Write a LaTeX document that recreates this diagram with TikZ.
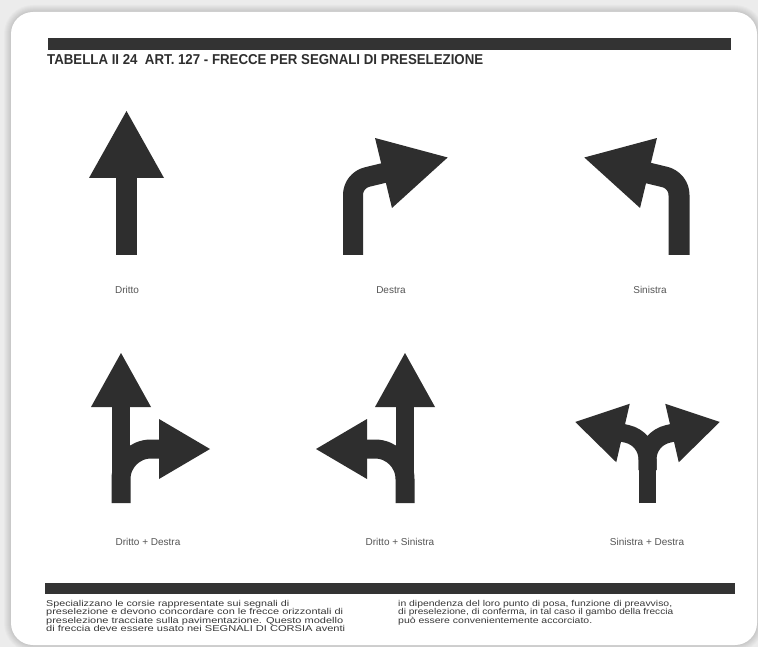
\documentclass[tikz,border=0pt]{standalone}
\usepackage{fontspec}
\setmainfont{Liberation Sans}
\definecolor{ink}{HTML}{2E2E2E}
\definecolor{barcol}{HTML}{333333}
\definecolor{lab}{HTML}{555555}
\definecolor{bgcol}{HTML}{ECECEC}
\definecolor{txt}{HTML}{383838}
\newcommand\myfit[2]{\resizebox{#1}{\height}{#2}}
\newcommand\ahead[4]{\begin{scope}[shift={(#1)}]\fill[headfill] ({#2+90}:#3) -- (#2:#4) -- ({#2-90}:#3) -- cycle;\end{scope}}
\tikzset{
  shaftline/.style={draw=ink, line width=#1, line cap=butt, line join=round},
  headfill/.style={fill=ink},
  lbl/.style={inner sep=0pt, text=lab, font=\fontsize{10}{12}\selectfont},
  para/.style={inner sep=0pt, anchor=base west, text=txt, font=\fontsize{8.5}{9}\selectfont},
  blackbar/.style={fill=barcol}
}
\begin{document}
\begin{tikzpicture}[x=1pt,y=1pt,yscale=-1]
\useasboundingbox (0,0) rectangle (758,647);
% background and card
\fill[bgcol] (0,0) rectangle (758,647);
\foreach \w in {2,4,...,14}
  \draw[black, opacity=0.02, line width=\w pt, rounded corners=22] (11,12) rectangle (757,645);
\fill[white, rounded corners=22] (11,12) rectangle (757,645);

% top bar and title
\fill[blackbar] (48,38) rectangle (731,50);
\node[inner sep=0pt, anchor=base west, text=ink] (title) at (47,65)
  {\resizebox{436pt}{10pt}{\bfseries TABELLA II 24\ \ ART. 127 - FRECCE PER SEGNALI DI PRESELEZIONE}};

% ---- Dritto
\draw[shaftline=21] (126.5,255) -- (126.5,172);
\ahead{126.5,178}{-90}{37.5}{67}
\node[lbl] (l1) at (127,290) {Dritto};

% ---- Destra
\draw[shaftline=20] (353,255) -- (353,195) arc[start angle=180, end angle=256.4, radius=18.5] -- ++(-13.6:22);
\ahead{383.5,173}{-13.6}{36}{66}
\node[lbl] (l2) at (391,290) {Destra};

% ---- Sinistra (mirror of Destra)
\begin{scope}[shift={(1032,0)}, xscale=-1]
\draw[shaftline=21] (353,255) -- (353,195) arc[start angle=180, end angle=256.4, radius=18.5] -- ++(-13.6:22);
\ahead{383.5,173}{-13.6}{36}{66}
\end{scope}
\node[lbl] (l3) at (650,290) {Sinistra};

% ---- Dritto + Destra
\draw[shaftline=18] (121,503) -- (121,400);
\ahead{121,407}{-90}{30}{54}
\draw[shaftline=19] (121,503) -- (121,479) arc[start angle=180, end angle=270, radius=30] -- ++(0:12);
\ahead{159,449}{0}{30}{51}
\node[lbl] (l4) at (148,542) {Dritto + Destra};

% ---- Dritto + Sinistra (mirror)
\begin{scope}[shift={(526,0)}, xscale=-1]
\draw[shaftline=18] (121,503) -- (121,400);
\ahead{121,407}{-90}{30}{54}
\draw[shaftline=19] (121,503) -- (121,479) arc[start angle=180, end angle=270, radius=30] -- ++(0:12);
\ahead{159,449}{0}{30}{51}
\end{scope}
\node[lbl] (l5) at (400,542) {Dritto + Sinistra};

% ---- Sinistra + Destra
\draw[shaftline=17.5] (647.5,503) -- (647.5,459);
\draw[shaftline=18] (647.5,470) -- (647.5,459.3) arc[start angle=180, end angle=257, radius=26] -- ++(-13:9);
\ahead{672,433}{-13}{30}{49}
\begin{scope}[shift={(1295,0)}, xscale=-1]
\draw[shaftline=18] (647.5,470) -- (647.5,459.3) arc[start angle=180, end angle=257, radius=26] -- ++(-13:9);
\ahead{672,433}{-13}{30}{49}
\end{scope}
\node[lbl] (l6) at (647,542) {Sinistra + Destra};

% bottom bar and text
\fill[blackbar] (45,583) rectangle (735,594);
\node[para] (p1) at (46,606) {\myfit{243pt}{Specializzano le corsie rappresentate sui segnali di}};
\node[para] (p2) at (46,614.5) {\myfit{297pt}{preselezione e devono concordare con le frecce orizzontali di}};
\node[para] (p3) at (46,623) {\myfit{297pt}{preselezione tracciate sulla pavimentazione. Questo modello}};
\node[para] (p4) at (46,631.5) {\myfit{299pt}{di freccia deve essere usato nei SEGNALI DI CORSIA aventi}};
\node[para] (q1) at (398,606) {\myfit{274pt}{in dipendenza del loro punto di posa, funzione di preavviso,}};
\node[para] (q2) at (398,614.5) {\myfit{275pt}{di preselezione, di conferma, in tal caso il gambo della freccia}};
\node[para] (q3) at (398,623) {\myfit{194pt}{può essere convenientemente accorciato.}};
\end{tikzpicture}
\end{document}
